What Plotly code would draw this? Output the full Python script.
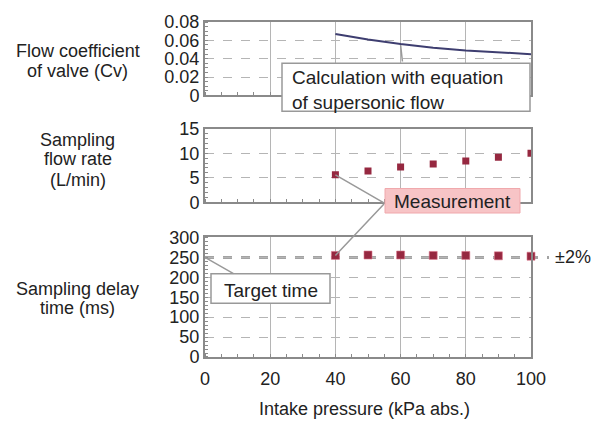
import plotly.graph_objects as go

pressure = [40, 50, 60, 70, 80, 90, 100]
cv_calc = [0.067, 0.061, 0.056, 0.052, 0.049, 0.047, 0.045]
flow_rate = [5.6, 6.4, 7.2, 7.8, 8.4, 9.2, 10.0]
delay_time = [255, 256, 256, 255, 255, 254, 253]
target_time = 250

cv_ticks = [0, 0.02, 0.04, 0.06, 0.08]
cv_ticktext = ["0", "0.02", "0.04", "0.06", "0.08"]
flow_ticks = [0, 5, 10, 15]
delay_ticks = [0, 50, 100, 150, 200, 250, 300]
x_ticks = [0, 20, 40, 60, 80, 100]

FONT = "Liberation Sans, Arial, sans-serif"
FRAME = "#8a8a8a"
GRID = "#b5b5b5"
MARK = "#962840"
TXT = "#222"

fig = go.Figure()

fig.add_trace(go.Scatter(x=pressure, y=cv_calc, mode="lines",
                         line=dict(color="#3e3e70", width=2), xaxis="x", yaxis="y"))
fig.add_trace(go.Scatter(x=pressure, y=flow_rate, mode="markers",
                         marker=dict(symbol="square", size=7, color=MARK), xaxis="x2", yaxis="y2"))
fig.add_trace(go.Scatter(x=pressure, y=delay_time, mode="markers",
                         marker=dict(symbol="square", size=8, color=MARK,
                                     line=dict(color="rgba(220,120,140,0.6)", width=1)),
                         xaxis="x3", yaxis="y3", cliponaxis=False))

H0, H1 = 357, 15
def py(y):
    return (H0 - y) / (H0 - H1)
def px(x):
    return (x - 205) / 326

TF = dict(size=18, color=TXT, family=FONT)
xcommon = dict(range=[0, 100], showline=True, mirror=True, linecolor=FRAME, linewidth=2,
               showgrid=True, gridcolor=GRID, gridwidth=1, zeroline=False,
               tickvals=x_ticks, ticks="", tickfont=TF,
               minor=dict(ticks="inside", ticklen=3, tickcolor=FRAME, dtick=5, showgrid=False))
ycommon = dict(showline=True, mirror=True, linecolor=FRAME, linewidth=2,
               showgrid=True, gridcolor=GRID, griddash="dash", gridwidth=1, zeroline=False,
               ticks="", tickfont=TF)

fig.update_layout(
    width=598, height=423,
    margin=dict(l=205, r=67, t=15, b=66),
    paper_bgcolor="white", plot_bgcolor="white",
    showlegend=False,
    font=dict(family=FONT, size=18, color=TXT),
    xaxis=dict(**xcommon, domain=[0, 1], anchor="y", showticklabels=False),
    yaxis=dict(**ycommon, domain=[py(90), 1], range=[0, 0.08], tickvals=cv_ticks,
               ticktext=cv_ticktext, anchor="x",
               minor=dict(ticks="inside", ticklen=3, tickcolor=FRAME, dtick=0.005)),
    xaxis2=dict(**xcommon, domain=[0, 1], anchor="y2", showticklabels=False),
    yaxis2=dict(**ycommon, domain=[py(199), py(124)], range=[0, 15], tickvals=flow_ticks,
                anchor="x2", minor=dict(ticks="inside", ticklen=3, tickcolor=FRAME, dtick=1)),
    xaxis3=dict(**xcommon, domain=[0, 1], anchor="y3", ticklabelstandoff=4),
    yaxis3=dict(**ycommon, domain=[0, py(235)], range=[0, 300], tickvals=delay_ticks,
                anchor="x3", minor=dict(ticks="inside", ticklen=3, tickcolor=FRAME, dtick=10)),
)

# target time line extending past the plot
fig.add_shape(type="line", xref="paper", yref="y3", x0=0, x1=px(549), y0=target_time, y1=target_time,
              line=dict(color="rgba(140,140,140,0.8)", width=3, dash="dash"), layer="below")

def text(t, x, y, size=18, xanchor="center", align="center"):
    fig.add_annotation(text=t, xref="paper", yref="paper", x=px(x), y=py(y),
                       xanchor=xanchor, yanchor="middle", showarrow=False, align=align,
                       font=dict(size=size, family=FONT, color=TXT))

def box(x0, y0, x1, y1, fill="white", border="#999", width=1.5):
    fig.add_shape(type="rect", xref="paper", yref="paper", x0=px(x0), x1=px(x1),
                  y0=py(y1), y1=py(y0), fillcolor=fill, line=dict(color=border, width=width),
                  layer="above")

# left axis labels
text("Flow coefficient", 78, 45, 18)
text("of valve (Cv)", 78, 65, 18)
text("Sampling", 78, 135, 18)
text("flow rate", 78, 155, 18)
text("(L/min)", 78, 176, 18)
text("Sampling delay", 78, 288, 18)
text("time (ms)", 78, 307, 18)
text("Intake pressure (kPa abs.)", 364, 410, 18)
text("±2%", 553, 255, 18, "left")

# callout: calculation
fig.add_annotation(x=60, y=0.055, xref="x", yref="y", ax=2, ay=18, showarrow=True,
                   arrowhead=0, arrowcolor="#999", arrowwidth=1.5, text="")
box(282, 57, 530, 106)
text("Calculation with equation<br>of supersonic flow", 290, 84, 19, "left", "left")

# callout: measurement (pointers from box's left edge to first measured points)
fig.add_annotation(x=40, y=flow_rate[0], xref="x2", yref="y2", ax=50, ay=29,
                   showarrow=True, arrowhead=0, arrowcolor="#999", arrowwidth=1.5, text="")
fig.add_annotation(x=40, y=delay_time[0], xref="x3", yref="y3", ax=50, ay=-53,
                   showarrow=True, arrowhead=0, arrowcolor="#999", arrowwidth=1.5, text="")
box(385, 185, 520, 210, fill="#f7c4c6", border="#f0a8ac", width=1)
text("Measurement", 452, 198, 19)

# callout: target time
fig.add_annotation(x=0, y=target_time, xref="x3", yref="y3", ax=30, ay=17,
                   showarrow=True, arrowhead=0, arrowcolor="#999", arrowwidth=1.5, text="")
box(211, 272, 330, 302)
text("Target time", 271, 289, 19)

fig.write_html("out.html")
